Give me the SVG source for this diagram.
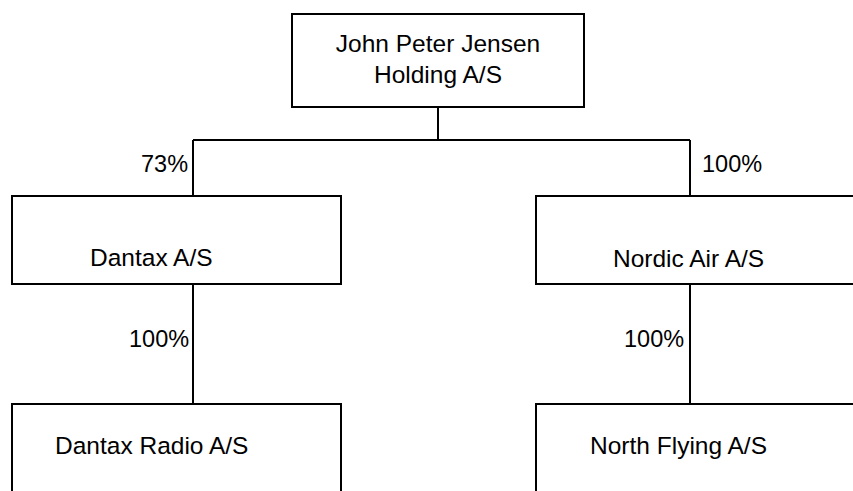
<svg xmlns="http://www.w3.org/2000/svg" width="853" height="491" viewBox="0 0 853 491">
<style>
.box{fill:#fff;stroke:#000;stroke-width:2}
.ln{stroke:#000;stroke-width:2;fill:none}
text{font-family:"Liberation Sans",Arial,sans-serif;font-size:24.5px;fill:#000}
.pct{font-size:23.5px}
</style>
<rect x="0" y="0" width="853" height="491" fill="#fff"/>
<g id="connectors">
<line class="ln" x1="438" y1="107" x2="438" y2="140"/>
<line class="ln" x1="193" y1="140" x2="690" y2="140"/>
<line class="ln" x1="193" y1="140" x2="193" y2="196"/>
<line class="ln" x1="690" y1="140" x2="690" y2="196"/>
<line class="ln" x1="193" y1="284" x2="193" y2="404"/>
<line class="ln" x1="690" y1="284" x2="690" y2="404"/>
<text class="pct" x="141" y="172">73%</text>
<text class="pct" x="702" y="172">100%</text>
<text class="pct" x="129" y="347">100%</text>
<text class="pct" x="624" y="347">100%</text>
</g>
<g id="holding">
<rect class="box" x="292" y="14" width="292" height="93"/>
<text x="438" y="52" text-anchor="middle" font-size="24">John Peter Jensen</text>
<text x="438" y="83" text-anchor="middle" font-size="24">Holding A/S</text>
</g>
<g id="dantax">
<rect class="box" x="12" y="196" width="329" height="88"/>
<text x="90" y="266">Dantax A/S</text>
</g>
<g id="nordic">
<rect class="box" x="536" y="196" width="330" height="88"/>
<text x="613" y="267">Nordic Air A/S</text>
</g>
<g id="dantaxradio">
<rect class="box" x="12" y="404" width="329" height="100"/>
<text x="55" y="454">Dantax Radio A/S</text>
</g>
<g id="northflying">
<rect class="box" x="536" y="404" width="330" height="100"/>
<text x="590" y="454">North Flying A/S</text>
</g>
</svg>
